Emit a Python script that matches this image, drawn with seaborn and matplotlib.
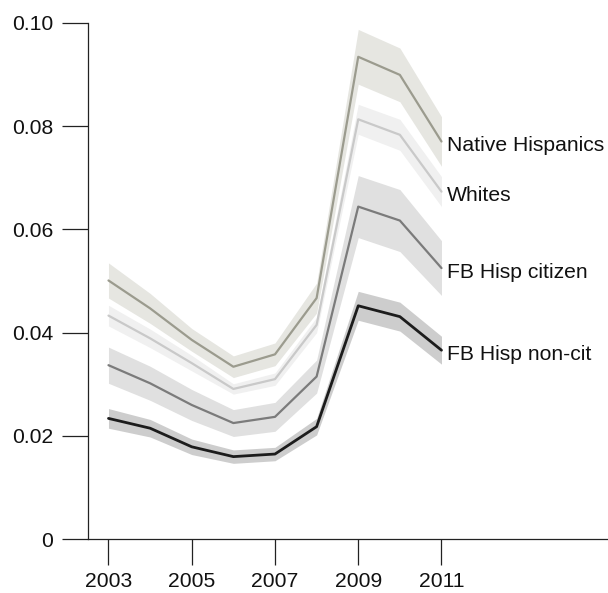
import numpy as np
import pandas as pd
import matplotlib
matplotlib.use('Agg')
import matplotlib.pyplot as plt
import seaborn as sns

# values
years = [2003, 2004, 2005, 2006, 2007, 2008, 2009, 2010, 2011]
native_hisp = [0.0501, 0.0447, 0.0386, 0.0334, 0.0358, 0.0467, 0.0934, 0.0899, 0.0770]
native_hisp_err = [0.0034, 0.0029, 0.0022, 0.0021, 0.0022, 0.0029, 0.0053, 0.0052, 0.0048]
whites = [0.0433, 0.0389, 0.0341, 0.0291, 0.0310, 0.0415, 0.0813, 0.0783, 0.0673]
whites_err = [0.0020, 0.0018, 0.0015, 0.0010, 0.0012, 0.0015, 0.0029, 0.0030, 0.0029]
fb_citizen = [0.0337, 0.0302, 0.0260, 0.0225, 0.0237, 0.0315, 0.0644, 0.0617, 0.0525]
fb_citizen_err = [0.0035, 0.0033, 0.0030, 0.0026, 0.0028, 0.0032, 0.0060, 0.0060, 0.0053]
fb_noncit = [0.0234, 0.0215, 0.0179, 0.0160, 0.0165, 0.0218, 0.0452, 0.0431, 0.0366]
fb_noncit_err = [0.0019, 0.0017, 0.0015, 0.0013, 0.0013, 0.0016, 0.0028, 0.0028, 0.0027]

labels = ['Native Hispanics', 'Whites', 'FB Hisp citizen', 'FB Hisp non-cit']
x_ticks = [2003, 2005, 2007, 2009, 2011]
y_ticks = [0, 0.02, 0.04, 0.06, 0.08, 0.10]
y_tick_labels = ['0', '0.02', '0.04', '0.06', '0.08', '0.10']

sns.set_style('ticks')
plt.rcParams['font.family'] = ['Liberation Sans', 'DejaVu Sans']

series = [
    (native_hisp, native_hisp_err, '#9b9b8e', '#e6e6e1', 1.6),
    (whites, whites_err, '#c9c9c9', '#f0f0f0', 1.6),
    (fb_citizen, fb_citizen_err, '#7b7b7b', '#e0e0e0', 1.6),
    (fb_noncit, fb_noncit_err, '#1c1c1c', '#cdcdcd', 2.0),
]

fig = plt.figure(figsize=(6.08, 5.93), dpi=100)
ax = fig.add_axes([0.1442, 0.0906, 0.8558, 0.8711])

for (vals, err, line_col, band_col, lw), name in zip(series, labels):
    df = pd.DataFrame({'year': years, 'rate': vals, 'err': err})
    ax.fill_between(df['year'], df['rate'] - df['err'], df['rate'] + df['err'],
                    color=band_col, linewidth=0, zorder=1)
    sns.lineplot(data=df, x='year', y='rate', color=line_col, linewidth=lw, ax=ax, zorder=2)
    # label sits just right of the last point, slightly below it
    ax.annotate(name, xy=(df['year'].iloc[-1], df['rate'].iloc[-1]),
                xytext=(3.8, -6.8), textcoords='offset points',
                fontsize=15.2, va='baseline', ha='left', color='#111111')

ax.set_xlim(2002.5, 2015)
ax.set_ylim(0, 0.10)
ax.set_xticks(x_ticks)
ax.set_xticklabels([str(y) for y in x_ticks])
ax.set_yticks(y_ticks)
ax.set_yticklabels(y_tick_labels)
ax.set_xlabel('')
ax.set_ylabel('')

sns.despine(ax=ax)
for s in ['left', 'bottom']:
    ax.spines[s].set_linewidth(0.9)
    ax.spines[s].set_color('#222222')
ax.tick_params(axis='both', direction='out', length=18.7, width=0.9, color='#222222',
               labelsize=15.2, labelcolor='#111111', bottom=True, left=True)
ax.tick_params(axis='y', pad=6)
ax.tick_params(axis='x', pad=5)

fig.savefig('out.png', dpi=100)
